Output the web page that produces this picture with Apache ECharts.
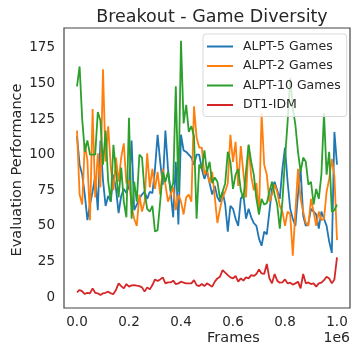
<!DOCTYPE html>
<html>
<head>
<meta charset="utf-8">
<script src="https://cdn.jsdelivr.net/npm/echarts@6/dist/echarts.min.js"></script>
<style>
  html, body { margin: 0; padding: 0; background: #fff; }
  #chart { width: 352px; height: 348px; }
</style>
</head>
<body>
<div id="chart"></div>
<script>
// Training frames at which each agent was evaluated (every 10k frames)
const frames = Array.from({ length: 101 }, (_, i) => i * 10000);

const alpt5 = [113, 93, 86, 72, 54, 65, 74, 85, 61, 110, 82, 64, 71, 67, 86, 76, 59, 71, 76, 73,
  78, 110, 61, 65, 69, 72, 74, 69, 74, 73, 90, 114, 95, 79, 117, 90, 74, 56, 95, 51,
  114, 103, 102, 100, 98, 93, 100, 100, 90, 83, 88, 80, 72, 78, 70, 67, 74, 65, 46, 64,
  62, 55, 50, 69, 72, 55, 62, 56, 52, 50, 41, 36, 46, 44, 60, 76, 81, 75, 69, 90,
  105, 81, 62, 55, 50, 72, 90, 57, 50, 52, 62, 60, 58, 48, 60, 55, 50, 39, 31, 116, 93];

const alpt2 = [117, 72, 65, 108, 96, 54, 132, 70, 101, 77, 160, 95, 120, 91, 75, 98, 81, 98, 108, 80,
  82, 64, 55, 50, 72, 60, 67, 101, 77, 90, 76, 88, 72, 90, 79, 67, 72, 77, 61, 72,
  67, 58, 70, 72, 67, 134, 112, 105, 105, 86, 90, 80, 88, 70, 52, 62, 70, 74, 80, 114,
  95, 109, 78, 106, 87, 70, 107, 85, 75, 80, 58, 129, 93, 86, 67, 72, 79, 74, 64, 60,
  50, 60, 58, 29, 60, 90, 69, 60, 52, 50, 69, 60, 50, 60, 54, 55, 74, 83, 97, 85, 40];

const alpt10 = [148, 162, 125, 102, 110, 100, 100, 100, 130, 124, 93, 117, 81, 67, 107, 88, 70, 91, 67, 56,
  126, 55, 81, 67, 100, 98, 74, 62, 60, 64, 46, 47, 67, 88, 81, 88, 75, 80, 148, 74,
  180, 122, 135, 116, 120, 113, 55, 93, 90, 103, 88, 95, 80, 84, 81, 69, 74, 80, 102, 95,
  76, 86, 90, 75, 69, 88, 107, 95, 86, 69, 58, 69, 65, 66, 74, 81, 72, 65, 48, 67,
  97, 123, 154, 133, 121, 102, 88, 98, 95, 79, 81, 65, 76, 69, 86, 129, 86, 102, 60, 61, 65];

const dt1idm = [3.3, 5.0, 4.0, 2.1, 3.0, 2.6, 6.1, 3.0, 2.6, 1.4, 2.6, 3.0, 3.8, 2.6, 2.1, 5.0, 9.6, 7.7, 6.1, 9.1,
  7.3, 8.2, 8.4, 8.0, 7.7, 6.8, 3.8, 6.8, 5.4, 8.4, 12.4, 11.2, 12.4, 13.8, 9.6, 10.3, 10.3, 11.5, 9.1, 9.6,
  10.8, 10.1, 9.6, 9.6, 9.6, 11.9, 8.4, 7.7, 9.1, 7.7, 9.6, 8.4, 7.3, 10.8, 13.1, 14.3, 18.9, 17.1, 15.4, 13.8,
  13.1, 14.8, 10.8, 13.1, 11.5, 13.8, 13.1, 15.4, 14.8, 16.2, 19.4, 16.6, 16.2, 23.2, 13.1, 9.6, 16.2, 11.5, 10.1, 10.3,
  12.4, 9.6, 10.1, 8.7, 9.6, 10.8, 6.1, 16.2, 9.6, 10.3, 9.1, 9.6, 7.3, 9.6, 10.1, 11.9, 14.3, 13.1, 9.6, 12.4, 27.9];

const seriesNames = ['ALPT-5 Games', 'ALPT-2 Games', 'ALPT-10 Games', 'DT1-IDM'];
const seriesValues = [alpt5, alpt2, alpt10, dt1idm];
const seriesColors = ['#1f77b4', '#ff7f0e', '#2ca02c', '#d62728'];

const xTicks = [0, 200000, 400000, 600000, 800000, 1000000];
const yTicks = [0, 25, 50, 75, 100, 125, 150, 175];

const FONT = 'DejaVu Sans';
const INK = '#262626';

const chart = echarts.init(document.getElementById('chart'), null, { renderer: 'canvas' });

chart.setOption({
  animation: false,
  backgroundColor: '#ffffff',
  textStyle: { fontFamily: FONT, color: INK },
  title: {
    text: 'Breakout - Game Diversity',
    left: 207,
    top: 3,
    textAlign: 'center',
    textStyle: { fontFamily: FONT, fontSize: 17.5, fontWeight: 'normal', color: INK }
  },
  grid: { left: 64, top: 28, width: 286, height: 280, show: true, borderColor: '#444', borderWidth: 1.2, backgroundColor: '#fff' },
  legend: {
    orient: 'vertical',
    left: 203,
    top: 34,
    padding: [5, 6, 4, 4],
    itemGap: 4.5,
    itemWidth: 26,
    itemHeight: 2,
    icon: 'rect',
    backgroundColor: 'rgba(255,255,255,0.8)',
    borderColor: '#d9d9d9',
    borderWidth: 1,
    borderRadius: 3,
    textStyle: { fontFamily: FONT, fontSize: 12.5, color: INK, lineHeight: 15, padding: [0, 0, 0, 5] },
    data: seriesNames
  },
  xAxis: {
    type: 'value',
    min: -50000,
    max: 1050000,
    axisLine: { show: false },
    axisTick: { show: false },
    splitLine: { show: false },
    axisLabel: {
      customValues: xTicks,
      margin: 7,
      fontFamily: FONT,
      fontSize: 13.5,
      color: INK,
      formatter: v => (v / 1e6).toFixed(1)
    }
  },
  yAxis: {
    type: 'value',
    min: -7.7,
    max: 189,
    axisLine: { show: false },
    axisTick: { show: false },
    splitLine: { show: false },
    axisLabel: {
      customValues: yTicks,
      margin: 9,
      fontFamily: FONT,
      fontSize: 13.5,
      color: INK
    }
  },
  graphic: [
    { type: 'text', left: 207, top: 331, style: { text: 'Frames', font: '14.5px "DejaVu Sans"', fill: INK, textAlign: 'center' } },
    { type: 'text', right: 2, top: 331, style: { text: '1e6', font: '14px "DejaVu Sans"', fill: INK } },
    { type: 'text', x: 17, y: 170, rotation: Math.PI / 2, style: { text: 'Evaluation Performance', font: '14.5px "DejaVu Sans"', fill: INK, textAlign: 'center', textVerticalAlign: 'middle' } }
  ],
  series: seriesNames.map((name, k) => ({
    name,
    type: 'line',
    data: frames.map((f, i) => [f, seriesValues[k][i]]),
    showSymbol: false,
    symbol: 'none',
    color: seriesColors[k],
    lineStyle: { width: 1.8, color: seriesColors[k] },
    emphasis: { disabled: true },
    clip: true
  }))
});
</script>
</body>
</html>
